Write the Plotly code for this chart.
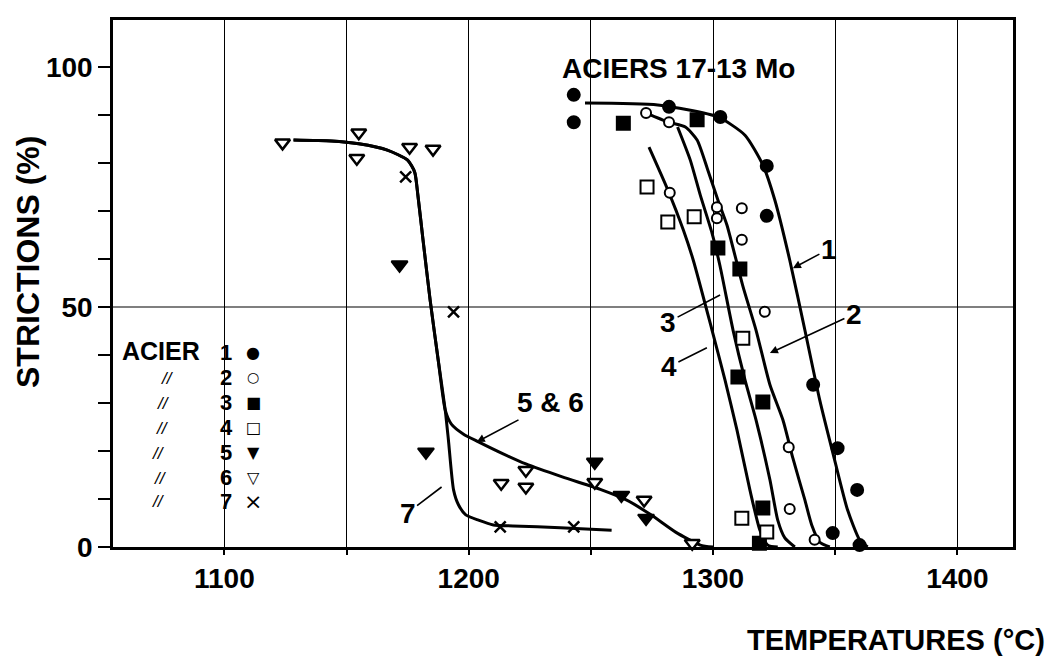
import plotly.graph_objects as go

# ---------------- data ----------------
# Steel 1 : filled circles
s1_t = [1243, 1243, 1282, 1303, 1322, 1322, 1341, 1351, 1359, 1349, 1360]
s1_v = [94.2, 88.5, 91.7, 89.6, 79.4, 69.0, 33.8, 20.6, 11.9, 2.9, 0.4]
# Steel 2 : open circles
s2_t = [1272.6, 1282, 1282.3, 1301.6, 1301.6, 1311.8, 1311.8, 1321.2, 1331, 1331.4, 1341.6, 1329.5, 1333, 1352.7]
s2_v = [90.4, 88.5, 73.8, 70.8, 68.5, 70.6, 64.0, 49.0, 20.8, 7.9, 1.5, -0.5, -0.5, -0.5]
# Steel 3 : filled squares
s3_t = [1263.3, 1293.5, 1302, 1311, 1310.2, 1320.4, 1320.4, 1319]
s3_v = [88.3, 89.0, 62.3, 57.9, 35.4, 30.2, 8.1, 0.8]
# Steel 4 : open squares
s4_t = [1273, 1281.5, 1292.3, 1312.2, 1311.8, 1322, 1340.4]
s4_v = [75.0, 67.7, 68.8, 43.5, 6.0, 3.1, -2.0]
# Steel 5 : filled down-triangles
s5_t = [1171.7, 1182.5, 1251.6, 1262.5, 1272.6]
s5_v = [58.8, 19.8, 17.7, 10.8, 6.0]
# Steel 6 : open down-triangles
s6_t = [1123.8, 1155, 1154.2, 1175.8, 1185.4, 1213.3, 1223.4, 1223.4, 1251.6, 1271.8, 1291.5]
s6_v = [84.2, 86.3, 81.0, 83.3, 82.9, 13.3, 16.0, 12.5, 13.5, 9.8, 0.8]
# Steel 7 : crosses
s7_t = [1174.2, 1193.8, 1212.9, 1243]
s7_v = [77.1, 49.0, 4.2, 4.2]

# Fitted curves
c1_t = [1247.6, 1277.4, 1302, 1313.1, 1320.4, 1325.3, 1331.4, 1337.6, 1343.7, 1349.8, 1355.1, 1360, 1363.3]
c1_v = [92.5, 92.1, 89.6, 85.8, 79.6, 72.3, 59.8, 45.2, 30.6, 18.1, 7.7, 1.5, 0]
c2_t = [1272.6, 1281.9, 1288.7, 1293.5, 1297.9, 1302.0, 1305.7, 1312.2, 1317.6, 1323.3, 1328.6, 1332.7, 1337.6, 1340.4, 1343.7, 1347.8]
c2_v = [90.4, 88.5, 87.5, 84.8, 78.5, 72.3, 67.1, 54.4, 45.2, 33.8, 26.5, 18.5, 9.8, 4.6, 1.0, 0]
c3_t = [1285.5, 1290.7, 1294.8, 1299.6, 1302.9, 1308.2, 1313.1, 1317.6, 1323.3, 1326.5, 1329.4, 1333.5]
c3_v = [87.5, 80.6, 73.3, 65.4, 58.5, 45.2, 34.8, 26.5, 14.0, 5.6, 1.9, 0]
c4_t = [1273.8, 1281.5, 1287.9, 1291.9, 1299.6, 1304.9, 1309.8, 1315.1, 1319.2, 1322.4, 1326.5]
c4_v = [83.3, 74.4, 66.0, 59.8, 45.2, 34.8, 24.4, 11.9, 3.5, 0.4, 0]
c56_t = [1128.3, 1143.8, 1155, 1166.7, 1175, 1177.9, 1179.2, 1181.3, 1184.2, 1187.5, 1190.4, 1192.9,
         1197.9, 1204, 1214.1, 1223.4, 1238.3, 1254.4, 1264.5, 1274.6, 1284.7, 1294.8, 1300]
c56_v = [84.8, 84.6, 84.0, 82.7, 80.6, 78.1, 73.3, 64.0, 51.5, 39.0, 28.5, 25.6,
         23.5, 21.9, 19.4, 17.3, 14.6, 11.9, 9.8, 6.7, 3.1, 0.4, 0]
c7_t = [1128.3, 1143.8, 1155, 1166.7, 1175, 1177.9, 1179.2, 1181.3, 1184.2, 1187.5, 1190.4,
        1191.7, 1193.8, 1195.8, 1198.8, 1204, 1210.1, 1218.1, 1237.5, 1258.5]
c7_v = [84.8, 84.6, 84.0, 82.7, 80.6, 78.1, 73.3, 64.0, 51.5, 39.0, 28.5,
        22.3, 11.9, 8.8, 6.7, 5.6, 4.6, 4.4, 4.0, 3.5]

x_ticks = [1100, 1150, 1200, 1250, 1300, 1350, 1400]
x_labels = ["1100", "", "1200", "", "1300", "", "1400"]
y_ticks = [0, 10, 20, 30, 40, 50, 60, 70, 80, 90, 100]
y_labels = ["0", "", "", "", "", "50", "", "", "", "", "100"]

legend_nums = ["1", "2", "3", "4", "5", "6", "7"]
legend_syms = ["\u25CF", "\u25CB", "\u25A0", "\u25A1", "\u25BC", "\u25BD", "\u00D7"]

# ---------------- figure ----------------
FONT = "Liberation Sans, Arial, Helvetica, sans-serif"
fig = go.Figure()

for ct, cv in [(c1_t, c1_v), (c2_t, c2_v), (c3_t, c3_v), (c4_t, c4_v), (c56_t, c56_v), (c7_t, c7_v)]:
    fig.add_trace(go.Scatter(x=ct, y=cv, mode="lines",
                             line=dict(color="black", width=3, shape="spline", smoothing=0.6),
                             hoverinfo="skip", showlegend=False, cliponaxis=False))

def pts(t, v, symbol, fill, size, lw=2):
    fig.add_trace(go.Scatter(x=t, y=v, mode="markers", showlegend=False, cliponaxis=False,
                             marker=dict(symbol=symbol, color=fill, size=size,
                                         line=dict(color="black", width=lw))))

pts(s1_t, s1_v, "circle", "black", 12)
pts(s2_t, s2_v, "circle", "white", 10)
pts(s3_t, s3_v, "square", "black", 13)
pts(s4_t, s4_v, "square", "white", 13)
pts(s5_t, s5_v, "triangle-down", "black", 14)
pts(s6_t, s6_v, "triangle-down", "white", 13, lw=2.5)
pts(s7_t, s7_v, "x-thin", "black", 11, lw=2.5)

# horizontal grid line at 50 %
fig.add_shape(type="line", xref="paper", x0=0, x1=1, yref="y", y0=50, y1=50,
              line=dict(color="black", width=1.2), layer="below")

ann = []
bold = dict(family=FONT, color="black", weight="bold")

def px(x):
    return (x - 113) / 900.0

def py(y):
    return (547 - y) / 527.0

def A(text, x, y, size, xanchor="center", yanchor="middle", family=None, weight="bold", **kw):
    f = dict(size=size, family=family or FONT, color="black", weight=weight)
    d = dict(text=text, x=x, y=y, xref="paper", yref="paper", showarrow=False,
             xanchor=xanchor, yanchor=yanchor, font=f)
    d.update(kw)
    ann.append(d)

A("ACIERS 17-13 Mo", px(560), py(68), 28, xanchor="left")
A("TEMPERATURES (°C)", px(1047), py(640), 29, xanchor="right")
A("STRICTIONS (%)", px(28), py(262), 32, textangle=-90)

# legend block
rows_y = [352, 377, 402, 427, 452, 477, 501]
slash_x = [None, 167, 163, 162, 158, 160, 158]
A("ACIER", px(120), py(rows_y[0] - 1), 25, xanchor="left")
for i, (n, s) in enumerate(zip(legend_nums, legend_syms)):
    A(n, px(226), py(rows_y[i]), 22)
    ssize = 16
    if s == "\u00D7":
        ssize = 22
    elif s == "\u25CB":
        ssize = 14
    A(s, px(253), py(rows_y[i]), ssize, family="DejaVu Sans", weight="normal")
    if slash_x[i] is not None:
        A("<i>//</i>", px(slash_x[i]), py(rows_y[i] + 1), 17, weight="normal")

# curve labels with leader lines
def lead(text, tx, ty, ax, ay, head):
    ann.append(dict(text=text, x=tx, y=ty, xref="x", yref="y", ax=ax, ay=ay,
                    showarrow=True, arrowhead=head, arrowsize=1.0, arrowwidth=1.6,
                    arrowcolor="black", standoff=0,
                    font=dict(size=28, **bold)))

lead("1", 1332.7, 58.1, 36, -19, 2)
lead("2", 1323.3, 40.4, 84, -39, 2)
lead("3", 1302.9, 52.5, -52, 27, 0)
lead("4", 1297.5, 41.5, -38, 19, 0)
lead("5 & 6", 1203.3, 21.9, 74, -39, 2)
lead("7", 1188.9, 12.5, -34, 26, 0)

fig.update_layout(
    width=1059, height=659,
    margin=dict(l=113, r=46, t=20, b=112, autoexpand=False),
    paper_bgcolor="white", plot_bgcolor="white",
    showlegend=False,
    annotations=ann,
    xaxis=dict(range=[1054.4, 1422.8], tickvals=x_ticks, ticktext=x_labels,
               showgrid=True, gridcolor="black", gridwidth=1.2,
               ticks="outside", ticklen=5, tickwidth=2, tickcolor="black",
               showline=True, linecolor="black", linewidth=2.5, mirror=True,
               zeroline=False, tickfont=dict(size=28, **bold)),
    yaxis=dict(range=[0, 109.8], tickvals=y_ticks, ticktext=y_labels,
               showgrid=False, ticks="outside", ticklen=12, tickwidth=2, tickcolor="black",
               showline=True, linecolor="black", linewidth=2.5, mirror=True,
               zeroline=False, tickfont=dict(size=28, **bold)),
)

fig.write_html("out.html", config={"displayModeBar": False},
               post_script="document.body.style.margin='0px';document.body.style.overflow='hidden';")
